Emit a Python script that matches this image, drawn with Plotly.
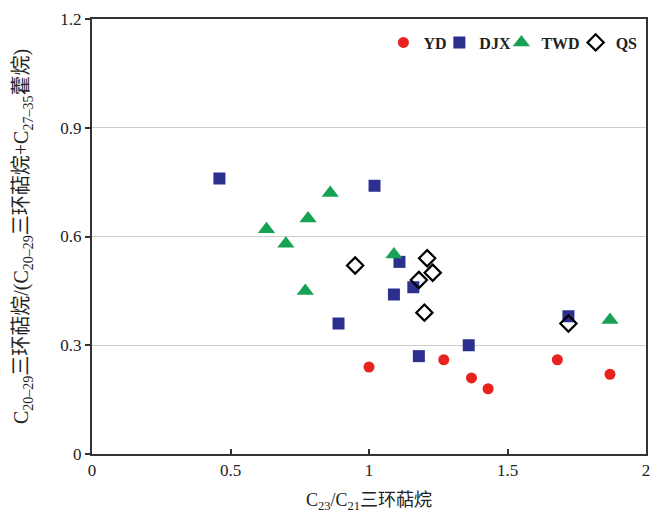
import plotly.graph_objects as go

# Data
yd_x = [1.00, 1.27, 1.37, 1.43, 1.68, 1.87]
yd_y = [0.24, 0.26, 0.21, 0.18, 0.26, 0.22]

djx_x = [0.46, 1.02, 1.11, 1.09, 1.16, 0.89, 1.18, 1.36, 1.72]
djx_y = [0.76, 0.74, 0.53, 0.44, 0.46, 0.36, 0.27, 0.30, 0.38]

twd_x = [0.63, 0.70, 0.78, 0.86, 0.77, 1.09, 1.87]
twd_y = [0.62, 0.58, 0.65, 0.72, 0.45, 0.55, 0.37]

qs_x = [0.95, 1.21, 1.23, 1.18, 1.20, 1.72]
qs_y = [0.52, 0.54, 0.50, 0.48, 0.39, 0.36]

x_ticks = [0, 0.5, 1, 1.5, 2]
x_ticklabels = ["0", "0.5", "1", "1.5", "2"]
y_ticks = [0, 0.3, 0.6, 0.9, 1.2]
y_ticklabels = ["0", "0.3", "0.6", "0.9", "1.2"]

FONT = "Liberation Serif, Times New Roman, Noto Sans CJK SC, serif"

fig = go.Figure()
fig.add_trace(go.Scatter(x=yd_x, y=yd_y, mode="markers", name="<b>YD</b>", legend="legend",
                         marker=dict(symbol="circle", size=11, color="#e8231e")))
fig.add_trace(go.Scatter(x=djx_x, y=djx_y, mode="markers", name="<b>DJX</b>", legend="legend2",
                         marker=dict(symbol="square", size=12, color="#2d2f8e")))
fig.add_trace(go.Scatter(x=twd_x, y=twd_y, mode="markers", name="<b>TWD</b>", legend="legend3",
                         marker=dict(symbol="triangle-up", size=15, color="#17a155")))
fig.add_trace(go.Scatter(x=qs_x, y=qs_y, mode="markers", name="<b>QS</b>", legend="legend4",
                         marker=dict(symbol="diamond-open", size=12.5, color="black",
                                     line=dict(width=2.2, color="black"))))

def leg(xp):
    return dict(orientation="h", x=xp, xanchor="left", y=0.985, yanchor="top",
                font=dict(family=FONT, size=16, color="#222"),
                itemwidth=30, bgcolor="rgba(0,0,0,0)", borderwidth=0)

fig.update_layout(
    width=660, height=517,
    margin=dict(l=92, r=10, t=11, b=61),
    paper_bgcolor="white", plot_bgcolor="white",
    font=dict(family=FONT, size=16, color="#222"),
    showlegend=True,
    legend=leg(0.526), legend2=leg(0.627), legend3=leg(0.739), legend4=leg(0.873),
)
fig.update_xaxes(range=[0, 2], tickvals=x_ticks, ticktext=x_ticklabels,
                 showline=True, linecolor="#333", linewidth=2, mirror=True,
                 ticks="inside", ticklen=5, tickwidth=1.5, tickcolor="#333",
                 showgrid=False, zeroline=False,
                 tickfont=dict(family=FONT, size=17, color="#222"),
                 title=dict(text="C<sub>23</sub>/C<sub>21</sub>三环萜烷", standoff=14,
                            font=dict(family=FONT, size=18, color="#222")))
fig.update_yaxes(range=[0, 1.2], tickvals=y_ticks, ticktext=y_ticklabels,
                 showline=True, linecolor="#333", linewidth=2, mirror=True,
                 ticks="outside", ticklen=5, tickwidth=1.5, tickcolor="#333",
                 showgrid=True, gridcolor="#cccccc", gridwidth=1, zeroline=False,
                 tickfont=dict(family=FONT, size=17, color="#222"),
                 title=dict(text="C<sub>20–29</sub>三环萜烷/(C<sub>20–29</sub>三环萜烷+C<sub>27–35</sub>藿烷)",
                            standoff=26, font=dict(family=FONT, size=20, color="#222")))

fig.write_html("out.html")
